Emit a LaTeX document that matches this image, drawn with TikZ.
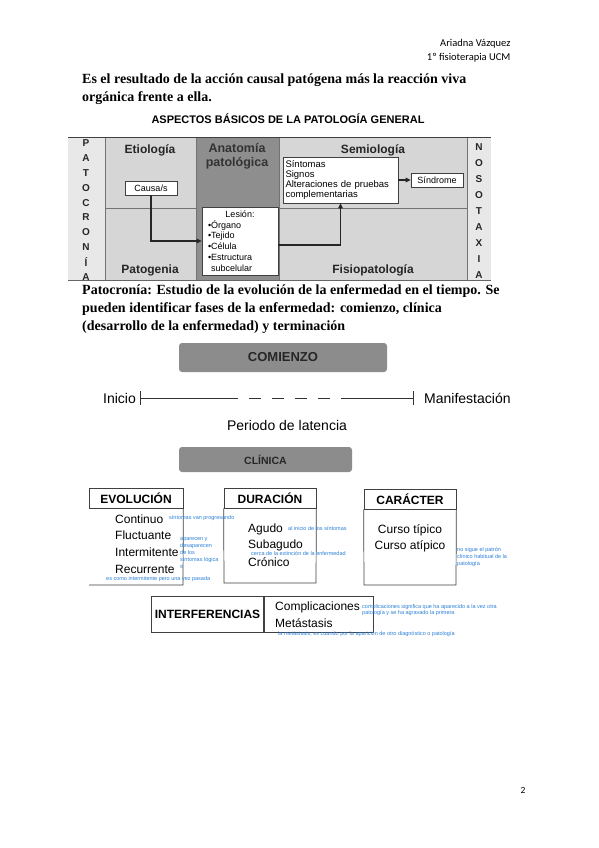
\documentclass[tikz,border=0pt]{standalone}
\usepackage{fontspec}
\setmainfont{Liberation Serif}
\setsansfont{Liberation Sans}
\newfontfamily\calibri{Carlito}
\usetikzlibrary{positioning,arrows.meta}

\definecolor{gridgray}{HTML}{D6D6D6}
\definecolor{stripgray}{HTML}{E8E8E8}
\definecolor{anatgray}{HTML}{8E8E8E}
\definecolor{phasegray}{HTML}{8C8C8C}
\definecolor{notes}{HTML}{2B80D8}

\tikzset{
  colhead/.style={font=\sffamily\bfseries\fontsize{12}{14}\selectfont, text=black!85},
  stripletter/.style={font=\sffamily\bfseries\fontsize{10}{12}\selectfont, text=black!85},
  smallbox/.style={draw=black!75, fill=white, line width=0.6pt, font=\sffamily\fontsize{9}{10}\selectfont, inner sep=2pt},
  conn/.style={line width=1.1pt, black!85, -{Triangle[length=5pt,width=4.5pt]}},
  phasebox/.style={fill=phasegray, rounded corners=3pt, font=\sffamily\bfseries, text=black!85},
  listhead/.style={draw=black!75, line width=0.7pt, font=\sffamily\bfseries\fontsize{12}{14}\selectfont, minimum height=20pt},
  listitem/.style={font=\sffamily\fontsize{12}{14}\selectfont, anchor=west, inner sep=0pt},
  note/.style={font=\sffamily\fontsize{5.5}{6.8}\selectfont, text=notes, anchor=west, inner sep=0pt, align=left},
  prose/.style={font=\bfseries\fontsize{14}{18}\selectfont, anchor=west, inner sep=0pt}
}

\begin{document}
\begin{tikzpicture}[x=1pt,y=-1pt]
  \useasboundingbox[fill=white] (0,0) rectangle (599,848);

  % Header of the page
  \node[anchor=east, font=\calibri\fontsize{10.5}{12}\selectfont] (autor) at (514,44) {Ariadna Vázquez};
  \node[anchor=east, font=\calibri\fontsize{10.5}{12}\selectfont] (curso) at (514,58) {1º fisioterapia UCM};

  % First paragraph
  \node[prose] (frase1) at (82,80) {Es el resultado de la acción causal patógena más la reacción viva};
  \node[prose] (frase2) at (82,98) {orgánica frente a ella.};

  % Aspectos basicos: background
  \fill[stripgray] (68,137) rectangle (491,280);
  \fill[gridgray] (105,137) rectangle (467,280);
  \fill[anatgray] (196,137) rectangle (279,280);
  \draw[black!55, line width=0.5pt] (105,208) -- (196,208) (279,208) -- (467,208);
  \draw[black!55, line width=0.5pt] (105,137) -- (105,280) (196,137) -- (196,280)
    (279,137) -- (279,280) (467,137) -- (467,280);
  \draw[black!75, line width=1pt] (68,137) -- (491,137);
  \draw[black!60, line width=0.6pt] (68,280) -- (491,280);

  \node[font=\sffamily\bfseries\fontsize{11}{13}\selectfont] (titulo) at (288,119) {ASPECTOS BÁSICOS DE LA PATOLOGÍA GENERAL};

  \node[colhead] (etiol) at (150,150) {Etiología};
  \node[colhead, align=center, font=\sffamily\bfseries\fontsize{12.5}{14.5}\selectfont, text=black!80] (anat) at (237,156) {Anatomía\\patológica};
  \node[colhead] (semio) at (373,150) {Semiología};
  \node[colhead] (patog) at (150,270) {Patogenia};
  \node[colhead] (fisio) at (373,270) {Fisiopatología};

  % Side letters
  \foreach \l [count=\i] in {P,A,T,O,C,R,O,N,Í,A}
    \node[stripletter] (pat\i) at (86,{143+(\i-1)*14.9}) {\l};
  \foreach \l [count=\i] in {N,O,S,O,T,A,X,I,A}
    \node[stripletter] (nos\i) at (479,{147+(\i-1)*16}) {\l};

  % Boxes of the first diagram
  \node[smallbox, minimum width=52pt, minimum height=14pt] (causa) at (151,188) {Causa/s};
  \node[smallbox, minimum width=76pt, minimum height=68pt, align=left, inner sep=3pt,
        font=\sffamily\fontsize{9}{10.8}\selectfont] (lesion) at (240,241)
    {\makebox[64pt][c]{Lesión:}\\•Órgano\\•Tejido\\•Célula\\•Estructura\\\phantom{•}subcelular};
  \node[smallbox, minimum width=115pt, minimum height=46pt, align=left, text width=110pt,
        font=\sffamily\fontsize{9.5}{10}\selectfont] (sintomas) at (340.5,180)
    {Síntomas\\Signos\\Alteraciones de pruebas\\complementarias};
  \node[smallbox, minimum width=52pt, minimum height=14pt] (sindrome) at (437,180) {Síndrome};

  \draw[conn] (causa.south) |- (lesion.west);
  \draw[conn] ([yshift=-4pt]lesion.east) -| (sintomas.south);
  \draw[conn] (sintomas.east |- sindrome) -- (sindrome.west);

  % Patocronia paragraph
  \node[prose] (pato1) at (82,291) {Patocronía: Estudio de la evolución de la enfermedad en el tiempo. Se};
  \node[prose] (pato2) at (82,309) {pueden identificar fases de la enfermedad: comienzo, clínica};
  \node[prose] (pato3) at (82,327) {(desarrollo de la enfermedad) y terminación};

  % Comienzo
  \node[phasebox, minimum width=208pt, minimum height=29pt, font=\sffamily\bfseries\fontsize{13}{15}\selectfont] (comienzo) at (283,357.5) {COMIENZO};

  % Time line
  \coordinate (t0) at (140,398);
  \coordinate (t1) at (413,398);
  \draw[black!80, line width=0.6pt] (t0) -- (238,398);
  \foreach \x in {249,272,295,318}
    \draw[black!80, line width=0.6pt] (\x,398) -- ++(12,0);
  \draw[black!80, line width=0.6pt] (341,398) -- (t1);
  \draw[black!80, line width=0.6pt] ([yshift=7pt]t0) -- ([yshift=-7pt]t0);
  \draw[black!80, line width=0.6pt] ([yshift=7pt]t1) -- ([yshift=-7pt]t1);
  \node[anchor=east, font=\sffamily\fontsize{14}{16}\selectfont, inner sep=0pt] (inicio) at ([xshift=-4pt]t0) {Inicio};
  \node[anchor=west, font=\sffamily\fontsize{14}{16}\selectfont, inner sep=0pt] (manif) at ([xshift=11pt]t1) {Manifestación};
  \node[font=\sffamily\fontsize{14}{16}\selectfont] (latencia) at (287,425) {Periodo de latencia};

  % Clinica
  \node[phasebox, minimum width=173pt, minimum height=25pt, font=\sffamily\bfseries\fontsize{10.5}{12}\selectfont] (clinica) at (265.5,459.5) {CLÍNICA};

  % Evolucion
  \node[listhead, minimum width=94pt] (evol) at (136,498) {EVOLUCIÓN};
  \draw[black!75, line width=0.7pt] (evol.south east) -- (183,585) -- (89,585);
  \node[listitem] (continuo) at (115,519) {Continuo};
  \node[listitem] (fluct) at (115,535) {Fluctuante};
  \node[listitem] (interm) at (115,552) {Intermitente};
  \node[listitem] (recur) at (115,569) {Recurrente};

  % Duracion
  \node[listhead, minimum width=92pt] (durac) at (270,498) {DURACIÓN};
  \draw[black!75, line width=0.7pt] (durac.south west) -- (224,583) -- (316,583) -- (durac.south east);
  \node[listitem] (agudo) at (248,529) {Agudo};
  \node[listitem] (subag) at (248,545) {Subagudo};
  \node[listitem] (cronico) at (248,562) {Crónico};

  % Caracter
  \node[listhead, minimum width=92pt] (caract) at (410,499) {CARÁCTER};
  \draw[black!75, line width=0.7pt] (caract.south west) -- (364,585) -- (456,585) -- (caract.south east);
  \node[font=\sffamily\fontsize{12}{14}\selectfont, inner sep=0pt] (tipico) at (410,530) {Curso típico};
  \node[font=\sffamily\fontsize{12}{14}\selectfont, inner sep=0pt] (atipico) at (410,546) {Curso atípico};

  % Interferencias
  \node[draw=black!75, line width=0.7pt, minimum width=111pt, minimum height=36pt,
        font=\sffamily\bfseries\fontsize{12}{14}\selectfont] (interf) at (207.5,614) {INTERFERENCIAS};
  \node[draw=black!75, line width=0.7pt, minimum width=109pt, minimum height=36pt, anchor=west] (interfbox) at (interf.east) {};
  \node[listitem] (complic) at (275,607) {Complicaciones};
  \node[listitem] (metast) at (275,623) {Metástasis};

  % Handwritten notes
  \node[note] (n1) at (169,518) {síntomas van progresando};
  \node[note] (n2) at (180,553) {aparecen y\\desaparecen\\de los\\síntomas lógica\\s};
  \node[note] (n3) at (106,579) {es como intermitente pero una vez pasada};
  \node[note] (n4) at (288,528) {al inicio de los síntomas};
  \node[note] (n5) at (251,553) {cerca de la extinción de la enfermedad};
  \node[note] (n6) at (457,557) {no sigue el patrón\\clínico habitual de la\\patología};
  \node[note] (n7) at (362,610) {complicaciones significa que ha aparecido a la vez otra\\patología y se ha agravado la primera};
  \node[note] (n8) at (278,634) {la metástasis, es cuando por la aparición de otro diagnóstico o patología};

  % Page number
  \node[font=\calibri\fontsize{9.5}{11}\selectfont] (pagina) at (523,790) {2};
\end{tikzpicture}
\end{document}
